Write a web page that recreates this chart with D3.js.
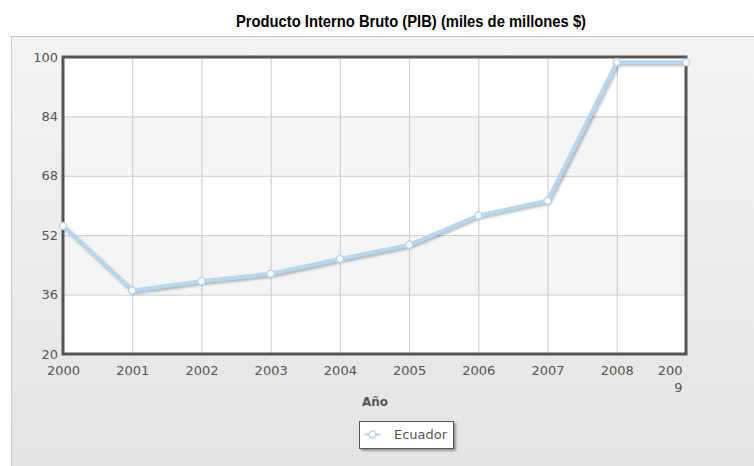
<!DOCTYPE html>
<html>
<head>
<meta charset="utf-8">
<script src="https://cdn.jsdelivr.net/npm/d3@7"></script>
<style>
  html, body { margin: 0; padding: 0; background: #ffffff; }
  svg { display: block; }
</style>
</head>
<body>
<svg id="chart" width="754" height="466"></svg>
<script>
// ---- data ----
const title = "Producto Interno Bruto (PIB) (miles de millones $)";
const xAxisTitle = "Año";
const seriesName = "Ecuador";
const years = [2000, 2001, 2002, 2003, 2004, 2005, 2006, 2007, 2008, 2009];
const values = [54.5, 37.1, 39.6, 41.6, 45.6, 49.4, 57.3, 61.3, 98.6, 98.6];
const yTicks = [20, 36, 52, 68, 84, 100];

// ---- layout ----
const W = 754, H = 466;
const plot = { left: 63, right: 686, top: 57, bottom: 354 };
const svg = d3.select("#chart");

const defs = svg.append("defs");
const grad = defs.append("linearGradient").attr("id", "bg").attr("x1", 0).attr("y1", 0).attr("x2", 0).attr("y2", 1);
grad.append("stop").attr("offset", "0%").attr("stop-color", "#f3f3f3");
grad.append("stop").attr("offset", "100%").attr("stop-color", "#e3e3e3");
const blur = defs.append("filter").attr("id", "shadow").attr("x", "-20%").attr("y", "-20%").attr("width", "140%").attr("height", "140%");
blur.append("feGaussianBlur").attr("stdDeviation", 1.2);
const lshadow = defs.append("filter").attr("id", "lshadow").attr("x", "-20%").attr("y", "-20%").attr("width", "160%").attr("height", "160%");
lshadow.append("feDropShadow").attr("dx", 2).attr("dy", 2).attr("stdDeviation", 1.2).attr("flood-color", "#000").attr("flood-opacity", 0.35);

// background panel
svg.append("rect").attr("x", 11.5).attr("y", 36.5).attr("width", W).attr("height", H)
  .attr("fill", "url(#bg)").attr("stroke", "#c6c6c6").attr("stroke-width", 1);

// title (condensed look)
svg.append("text").attr("x", 411).attr("y", 27).attr("text-anchor", "middle")
  .attr("font-family", "'Liberation Sans Narrow', 'Arial Narrow', 'Liberation Sans', Arial, sans-serif")
  .attr("font-weight", "bold").attr("font-size", 17).attr("fill", "#000")
  .attr("textLength", 350).attr("lengthAdjust", "spacingAndGlyphs")
  .text(title);

// scales
const x = d3.scalePoint().domain(years).range([plot.left, plot.right]);
const y = d3.scaleLinear().domain([yTicks[0], yTicks[yTicks.length - 1]]).range([plot.bottom, plot.top]);

// plot area with alternating bands
svg.append("rect").attr("x", plot.left).attr("y", plot.top)
  .attr("width", plot.right - plot.left).attr("height", plot.bottom - plot.top).attr("fill", "#ffffff");
const bands = d3.pairs(yTicks);
svg.append("g").selectAll("rect").data(bands).join("rect")
  .attr("x", plot.left).attr("width", plot.right - plot.left)
  .attr("y", d => y(d[1])).attr("height", d => y(d[0]) - y(d[1]))
  .attr("fill", (d, i) => i % 2 === 1 ? "#f4f4f4" : "#ffffff");

// gridlines
svg.append("g").attr("transform", `translate(${plot.left},0)`)
  .call(d3.axisLeft(y).tickValues(yTicks).tickSize(-(plot.right - plot.left)).tickFormat(""))
  .call(g => g.select(".domain").remove())
  .call(g => g.selectAll("line").attr("stroke", "#c9c9c9").attr("stroke-width", 1));
svg.append("g").attr("transform", `translate(0,${plot.bottom})`)
  .call(d3.axisBottom(x).tickSize(-(plot.bottom - plot.top)).tickFormat(""))
  .call(g => g.select(".domain").remove())
  .call(g => g.selectAll("line").attr("stroke", "#c9c9c9").attr("stroke-width", 1));

// frame
svg.append("rect").attr("x", plot.left).attr("y", plot.top)
  .attr("width", plot.right - plot.left).attr("height", plot.bottom - plot.top)
  .attr("fill", "none").attr("stroke", "#555").attr("stroke-width", 3);

// axis labels
const labelFont = "'DejaVu Sans', Verdana, sans-serif";
const yAxis = svg.append("g").attr("transform", `translate(${plot.left},0)`)
  .call(d3.axisLeft(y).tickValues(yTicks).tickSize(0).tickPadding(5));
yAxis.select(".domain").remove();
yAxis.selectAll("text").attr("font-family", labelFont).attr("font-size", 13).attr("fill", "#555")
  .attr("dy", "0.32em");

const xAxis = svg.append("g").attr("transform", `translate(0,${plot.bottom})`)
  .call(d3.axisBottom(x).tickSize(0).tickPadding(12).tickFormat(d3.format("d")));
xAxis.select(".domain").remove();
xAxis.selectAll("text").attr("font-family", labelFont).attr("font-size", 13).attr("fill", "#555");
// last label does not fit: wrap it inside the plot width
xAxis.selectAll(".tick").filter(d => d === years[years.length - 1]).select("text")
  .each(function (d) {
    const s = String(d);
    const t = d3.select(this).text("").attr("text-anchor", "end").attr("x", -4);
    t.append("tspan").attr("x", -4).text(s.slice(0, 3));
    t.append("tspan").attr("x", -4).attr("dy", "1.3em").text(s.slice(3));
  });

svg.append("text").attr("x", 375).attr("y", 406).attr("text-anchor", "middle")
  .attr("font-family", labelFont).attr("font-weight", "bold").attr("font-size", 12).attr("fill", "#555")
  .text(xAxisTitle);

// series line
const line = d3.line().x((d, i) => x(years[i])).y(d => y(d));
svg.append("path").datum(values).attr("d", line).attr("fill", "none")
  .attr("stroke", "#000").attr("stroke-opacity", 0.25).attr("stroke-width", 4)
  .attr("transform", "translate(2,2)").attr("filter", "url(#shadow)");
svg.append("path").datum(values).attr("d", line).attr("fill", "none")
  .attr("stroke", "#b4d8f2").attr("stroke-width", 4).attr("stroke-linejoin", "round");
svg.append("g").selectAll("circle").data(values).join("circle")
  .attr("cx", (d, i) => x(years[i])).attr("cy", d => y(d)).attr("r", 3.5)
  .attr("fill", "#fff").attr("stroke", "#b4d8f2").attr("stroke-width", 1.5);

// legend
const lg = svg.append("g").attr("transform", "translate(359.5,421.5)");
lg.append("rect").attr("width", 94).attr("height", 27).attr("fill", "#fff")
  .attr("stroke", "#555").attr("stroke-width", 1).attr("filter", "url(#lshadow)");
lg.append("line").attr("x1", 5).attr("x2", 21).attr("y1", 13).attr("y2", 13)
  .attr("stroke", "#b4d8f2").attr("stroke-width", 2);
lg.append("circle").attr("cx", 13).attr("cy", 13).attr("r", 3.5)
  .attr("fill", "#fff").attr("stroke", "#b4d8f2").attr("stroke-width", 1.5);
lg.append("text").attr("x", 34.5).attr("y", 17.5)
  .attr("font-family", labelFont).attr("font-size", 13).attr("fill", "#555")
  .text(seriesName);
</script>
</body>
</html>
